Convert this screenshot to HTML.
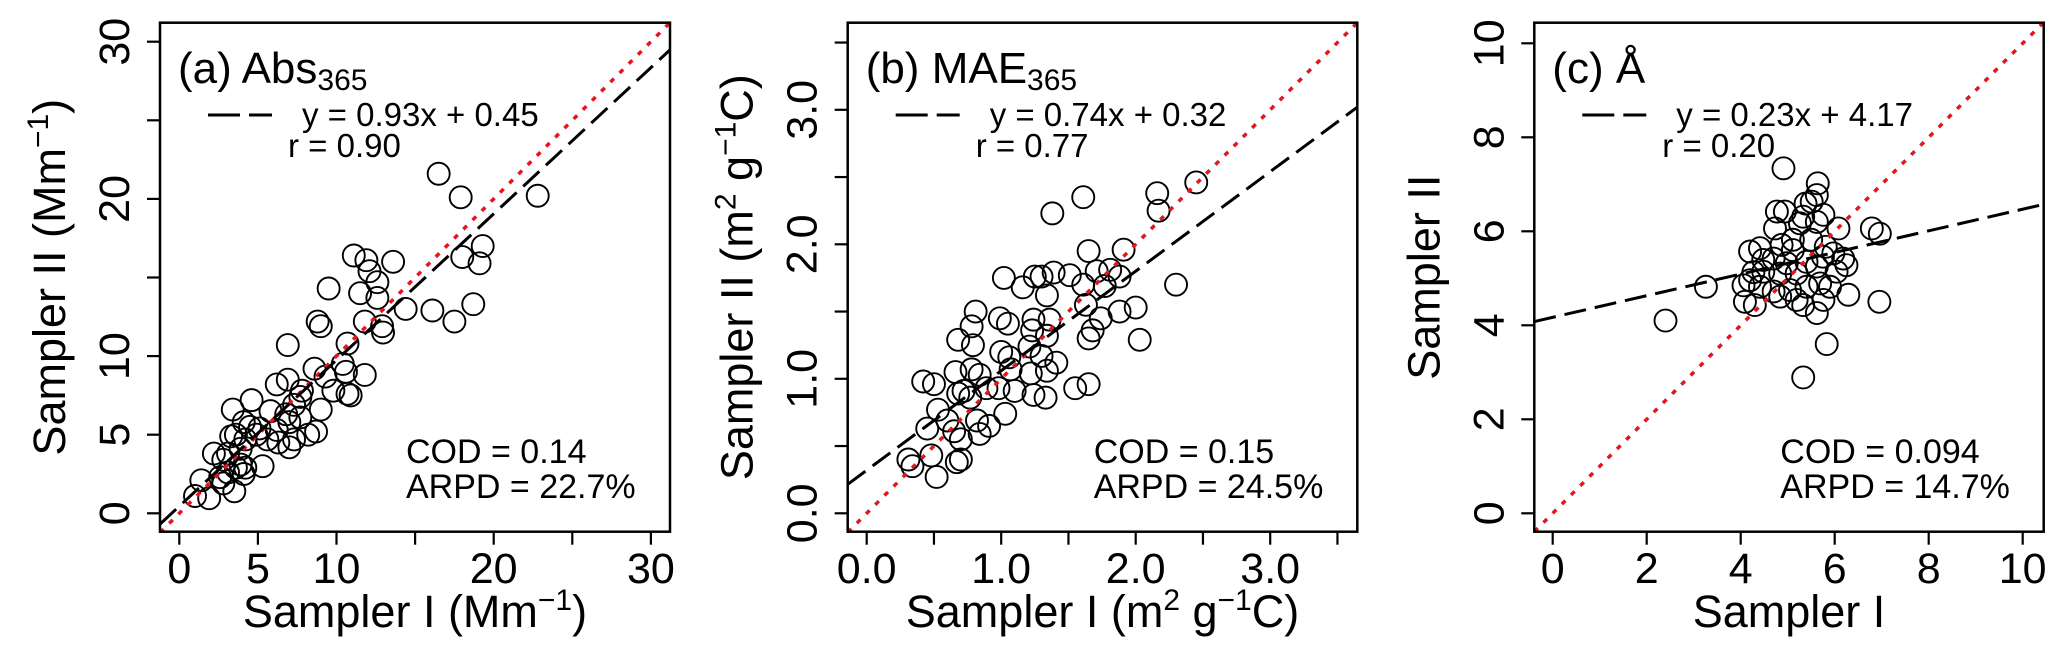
<!DOCTYPE html>
<html><head><meta charset="utf-8"><style>
html,body{margin:0;padding:0;background:#fff;}
svg{display:block;font-family:"Liberation Sans",Arial,sans-serif;}
</style></head><body>
<svg id="fig" width="2067" height="655" viewBox="0 0 2067 655" xmlns="http://www.w3.org/2000/svg"></svg>
<script>
// ---- Panel (a) data ----
const aX = [16.5,17.9,22.8,19.3,18.0,19.1,18.7,16.1,17.5,14.4,13.6,11.1,11.9,12.1,12.6,11.5,12.6,9.5,8.8,9.0,11.8,12.9,12.96,6.9,10.7,10.4,10.6,11.8,8.6,9.3,9.8,10.7,10.9,6.2,6.9,7.8,7.7,9.0,7.3,6.8,5.8,7.0,7.7,8.7,8.2,7.3,6.2,5.6,6.3,7.0,4.9,4.6,3.4,4.1,4.5,3.6,4.2,3.3,3.9,3.1,2.2,2.8,3.9,4.2,5.3,3.6,3.1,2.6,3.5,1.4,2.8,1.0,1.9,4.1,5.1];
const aY = [21.6,20.1,20.2,17.0,16.3,15.9,13.3,12.9,12.2,13.0,16.0,16.4,16.1,15.4,14.7,14.0,13.7,14.3,12.2,11.9,12.2,11.9,11.5,10.7,10.8,9.5,9.0,8.8,9.2,8.7,7.8,7.6,7.5,8.2,8.5,7.8,7.4,6.6,6.9,6.3,6.5,5.8,6.1,5.2,5.0,4.7,5.3,4.7,4.5,4.2,5.0,7.2,6.6,5.8,5.5,5.0,4.7,4.9,4.1,3.8,3.8,3.4,3.1,2.9,3.0,2.9,2.6,2.3,1.4,2.1,1.9,1.1,0.96,2.5,5.4];
const aFit = [0.93, 0.45];
const aXTicks = [0,5,10,15,20,25,30];
const aXTickLabels = ["0","5","10","","20","","30"];
const aYTicks = [0,5,10,15,20,25,30];
const aYTickLabels = ["0","5","10","","20","","30"];

// ---- Panel (b) data ----
const bX = [1.61,1.38,1.65,1.02,1.16,1.25,1.30,1.34,1.39,1.51,1.61,1.71,0.81,0.78,0.68,0.79,0.99,1.05,1.00,1.06,1.24,1.23,1.36,1.34,1.21,1.30,1.41,1.22,1.34,1.63,1.65,1.68,1.55,1.65,0.42,0.50,0.66,0.78,0.84,0.72,0.77,0.68,0.89,0.98,1.10,1.24,1.33,1.07,1.03,0.53,0.45,0.60,0.65,0.70,0.82,0.91,0.84,0.67,0.70,0.48,0.31,0.34,0.52,2.45,2.16,2.17,1.91,1.81,1.88,1.77,2.30,2.0,1.88,1.74,2.03];
const bY = [2.35,2.23,1.95,1.75,1.68,1.76,1.76,1.62,1.79,1.77,1.70,1.80,1.50,1.39,1.29,1.25,1.45,1.41,1.20,1.16,1.44,1.36,1.44,1.32,1.24,1.17,1.12,1.04,1.06,1.55,1.30,1.36,0.93,0.96,0.98,0.96,1.05,1.07,1.03,0.91,0.86,0.89,0.93,0.93,0.91,0.88,0.86,1.07,0.74,0.77,0.63,0.69,0.61,0.55,0.69,0.65,0.59,0.38,0.40,0.43,0.40,0.35,0.27,2.46,2.38,2.25,1.96,1.81,1.76,1.69,1.70,1.53,1.50,1.45,1.29];
const bFit = [0.74, 0.32];
const bXTicks = [0,0.5,1,1.5,2,2.5,3,3.5];
const bXTickLabels = ["0.0","","1.0","","2.0","","3.0",""];
const bYTicks = [0,0.5,1,1.5,2,2.5,3,3.5];
const bYTickLabels = ["0.0","","1.0","","2.0","","3.0",""];

// ---- Panel (c) data ----
const cX = [4.91,5.64,5.62,5.38,5.51,4.77,4.94,5.76,5.33,5.62,6.08,4.73,5.26,6.79,6.96,4.20,4.41,4.87,5.11,5.97,6.18,5.75,6.25,4.70,4.98,5.40,5.62,6.04,4.27,4.48,4.84,5.19,4.20,4.06,4.41,4.70,5.05,5.40,5.69,5.90,4.09,4.30,4.84,5.19,5.33,5.62,5.76,6.29,6.95,3.26,5.83,5.33,2.4,4.48,5.11,5.5,5.81];
const cY = [7.34,7.02,6.77,6.59,6.63,6.42,6.42,6.35,6.31,6.20,6.06,6.06,6.17,6.06,5.95,5.57,5.64,5.71,5.60,5.53,5.42,5.46,5.28,5.42,5.32,5.35,5.25,5.14,5.13,5.14,5.10,5.10,4.96,4.85,4.82,4.72,4.75,4.82,4.89,4.82,4.50,4.43,4.61,4.54,4.43,4.26,4.54,4.65,4.50,4.82,3.60,2.89,4.1,5.39,5.82,5.82,5.67];
const cFit = [0.23, 4.17];
const cXTicks = [0,2,4,6,8,10];
const cXTickLabels = ["0","2","4","6","8","10"];
const cYTicks = [0,2,4,6,8,10];
const cYTickLabels = ["0","2","4","6","8","10"];

const NS = "http://www.w3.org/2000/svg";
const svg = document.getElementById('fig');
function mk(tag, attrs, parent){
  const e = document.createElementNS(NS, tag);
  for (const k in attrs) e.setAttribute(k, attrs[k]);
  (parent||svg).appendChild(e);
  return e;
}
const TOP = 22.7, BOT = 531.7, Y0 = 513.3;

function panel(id, left, right, x0px, k, xs, ys, fit, xt, xtl, yt, ytl, titleMain, titleSub, fitTxt, rTxt, codTxt, arpdTxt, xTitleParts, yTitleParts){
  const g = mk('g', {});
  
  
  const sx = v => x0px + v * k;
  const sy = v => Y0 - v * k;
  const xmin = (left - x0px) / k, xmax = (right - x0px) / k;
  const cp = mk('clipPath', {id: 'clip-' + id}, g);
  mk('rect', {x: left, y: TOP, width: right - left, height: BOT - TOP}, cp);
  const pl = mk('g', {'clip-path': 'url(#clip-' + id + ')'}, g);
  for (let i = 0; i < xs.length; i++) {
    const c = mk('circle', {cx: sx(xs[i]), cy: sy(ys[i]), r: 11, fill: 'none', stroke: '#000', 'stroke-width': 1.9}, pl);
    
    
  }
  const one = mk('line', {x1: sx(xmin), y1: sy(xmin), x2: sx(xmax), y2: sy(xmax), stroke: '#e8141c', 'stroke-width': 3.5, 'stroke-dasharray': '5 8'}, pl);
  
  
  const rl = mk('line', {x1: sx(xmin), y1: sy(fit[0]*xmin + fit[1]), x2: sx(xmax), y2: sy(fit[0]*xmax + fit[1]), stroke: '#000', 'stroke-width': 3, 'stroke-dasharray': '22 9'}, pl);
  
  
  const bx = mk('rect', {x: left, y: TOP, width: right - left, height: BOT - TOP, fill: 'none', stroke: '#000', 'stroke-width': 2.5}, g);
  
  
  for (let i = 0; i < xt.length; i++) {
    const X = sx(xt[i]);
    const t = mk('line', {x1: X, y1: BOT, x2: X, y2: BOT + 13, stroke: '#000', 'stroke-width': 2.2}, g);
    
    
    if (xtl[i]) {
      const tx = mk('text', {x: X, y: 583, 'font-size': 43, 'text-anchor': 'middle'}, g);
      tx.textContent = xtl[i];
      
      
    }
  }
  for (let i = 0; i < yt.length; i++) {
    const Y = sy(yt[i]);
    const t = mk('line', {x1: left, y1: Y, x2: left - 13, y2: Y, stroke: '#000', 'stroke-width': 2.2}, g);
    
    
    if (ytl[i]) {
      const tx = mk('text', {x: 0, y: 0, 'font-size': 43, 'text-anchor': 'middle', transform: 'translate(' + (left - 31) + ',' + Y + ') rotate(-90)'}, g);
      tx.textContent = ytl[i];
      
      
    }
  }
  const tt = mk('text', {x: left + 18, y: 83, 'font-size': 44}, g);
  
  
  tt.appendChild(document.createTextNode(titleMain));
  if (titleSub) { const s = mk('tspan', {'font-size': 30, dy: 7}, tt); s.textContent = titleSub; }
  const lg = mk('line', {x1: left + 48, y1: 115, x2: left + 112, y2: 115, stroke: '#000', 'stroke-width': 3, 'stroke-dasharray': '32 9'}, g);
  
  
  const ft = mk('text', {x: left + 142, y: 126, 'font-size': 33}, g);
  ft.textContent = fitTxt;
  
  
  const rt = mk('text', {x: left + 128, y: 157, 'font-size': 33}, g);
  rt.textContent = rTxt;
  
  
  const ct = mk('text', {x: left + 246, y: 463, 'font-size': 34}, g);
  ct.textContent = codTxt;
  
  
  const at = mk('text', {x: left + 246, y: 498, 'font-size': 34}, g);
  at.textContent = arpdTxt;
  
  
  const xtt = mk('text', {x: (left + right) / 2, y: 627, 'font-size': 45, 'text-anchor': 'middle'}, g);
  
  
  xTitleParts.forEach(p => { const s = mk('tspan', p.sup ? {'font-size': 30, dy: -17} : (p.after ? {dy: 17} : {}), xtt); s.textContent = p.t; });
  const ytt = mk('text', {x: 0, y: 0, 'font-size': 45, 'text-anchor': 'middle', transform: 'translate(' + (left - 95) + ',' + ((TOP + BOT) / 2) + ') rotate(-90)'}, g);
  
  
  yTitleParts.forEach(p => { const s = mk('tspan', p.sup ? {'font-size': 30, dy: -17} : (p.after ? {dy: 17} : {}), ytt); s.textContent = p.t; });
}

panel('a', 160, 670, 179.3, 15.72, aX, aY, aFit, aXTicks, aXTickLabels, aYTicks, aYTickLabels,
  '(a) Abs', '365', 'y = 0.93x + 0.45', 'r = 0.90', 'COD = 0.14', 'ARPD = 22.7%',
  [{t:'Sampler I (Mm'},{t:'\u22121',sup:true},{t:')',after:true}],
  [{t:'Sampler II (Mm'},{t:'\u22121',sup:true},{t:')',after:true}]);
panel('b', 847.7, 1357.3, 866.7, 134.5, bX, bY, bFit, bXTicks, bXTickLabels, bYTicks, bYTickLabels,
  '(b) MAE', '365', 'y = 0.74x + 0.32', 'r = 0.77', 'COD = 0.15', 'ARPD = 24.5%',
  [{t:'Sampler I (m'},{t:'2',sup:true},{t:' g',after:true},{t:'\u22121',sup:true},{t:'C)',after:true}],
  [{t:'Sampler II (m'},{t:'2',sup:true},{t:' g',after:true},{t:'\u22121',sup:true},{t:'C)',after:true}]);
panel('c', 1534.3, 2043.7, 1552.7, 47.0, cX, cY, cFit, cXTicks, cXTickLabels, cYTicks, cYTickLabels,
  '(c) \u00C5', '', 'y = 0.23x + 4.17', 'r = 0.20', 'COD = 0.094', 'ARPD = 14.7%',
  [{t:'Sampler I'}],
  [{t:'Sampler II'}]);
</script>
</body></html>
